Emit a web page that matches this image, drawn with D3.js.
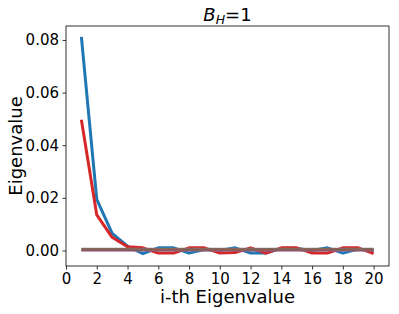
<!DOCTYPE html>
<html><head><meta charset="utf-8">
<script src="https://cdn.jsdelivr.net/npm/d3@7"></script>
<style>body{margin:0;background:#fff}svg{display:block}</style>
</head><body>
<script>
const idx = [1,2,3,4,5,6,7,8,9,10,11,12,13,14,15,16,17,18,19,20];
const blueVals = [0.0812,0.0194,0.0065,0.0016,-0.0012,0.0010,0.0010,-0.0010,0.0004,0.0000,0.0010,-0.0010,-0.0010,0.0008,0.0008,0.0000,0.0010,-0.0010,0.0005,0.0000];
const redVals  = [0.0497,0.0135,0.0050,0.0014,0.0010,-0.0010,-0.0010,0.0010,0.0010,-0.0010,-0.0008,0.0010,-0.0010,0.0010,0.0010,-0.0010,-0.0010,0.0010,0.0010,-0.0012];
const purpleVals = [0,0,0,0,0,0,0,0,0,0,0,0,0,0,0,0,0,0,0,0];
const grayVals = [0.0005,0.0005,0.0005,0.0005,0.0005,0.0005,0.0005,0.0005,0.0005,0.0005,0.0005,0.0005,0.0005,0.0005,0.0005,0.0005,0.0005,0.0005,0.0005,0.0005];
const brownVals = [0.0003,0.0003,0.0003,0.0003,0.0003,0.0003,0.0003,0.0003,0.0003,0.0003,0.0003,0.0003,0.0003,0.0003,0.0003,0.0003,0.0003,0.0003,0.0003,0.0003];
const xTicks = [0,2,4,6,8,10,12,14,16,18,20];
const yTicks = [0.00,0.02,0.04,0.06,0.08];

const W=399,H=314, L=66,R=389,T=26,B=266;
const svg=d3.select("body").append("svg").attr("width",W).attr("height",H);
const x=d3.scaleLinear().domain([0,21]).range([L,R]);
const y=d3.scaleLinear().domain([-0.0059,0.0853]).range([B,T]);
const font="DejaVu Sans";

const series=[
 {v:blueVals,c:"#1f77b4",w:3,o:1},
 {v:redVals,c:"#d62728",w:3,o:1},
 {v:purpleVals,c:"#9467bd",w:2,o:1},
 {v:grayVals,c:"#7f7f7f",w:3,o:1},
 {v:brownVals,c:"#8c564b",w:3,o:0.8}
];
const line=d3.line().x((d,i)=>x(idx[i])).y(d=>y(d));
const g=svg.append("g");
series.forEach(s=>{
  g.append("path").datum(s.v).attr("d",line).attr("fill","none")
   .attr("stroke",s.c).attr("stroke-width",s.w).attr("stroke-opacity",s.o)
   .attr("stroke-linejoin","round");
});

// axes
const xa=svg.append("g").attr("transform",`translate(0,${B})`)
 .call(d3.axisBottom(x).tickValues(xTicks).tickSize(3.5).tickPadding(3.5).tickFormat(d3.format("d")));
const ya=svg.append("g").attr("transform",`translate(${L},0)`)
 .call(d3.axisLeft(y).tickValues(yTicks).tickSize(3.5).tickPadding(3.5).tickFormat(d3.format(".2f")));
[xa,ya].forEach(a=>{
  a.select(".domain").remove();
  a.selectAll("line").attr("stroke","#000").attr("stroke-width",0.8);
  a.selectAll("text").attr("font-family",font).attr("font-size",15).attr("fill","#000");
});
svg.append("rect").attr("x",L).attr("y",T).attr("width",R-L).attr("height",B-T)
 .attr("fill","none").attr("stroke","#000").attr("stroke-width",0.8);

// title
const t=svg.append("text").attr("x",(L+R)/2).attr("y",21).attr("text-anchor","middle")
 .attr("font-family",font).attr("font-size",18);
t.append("tspan").attr("font-style","italic").text("B");
t.append("tspan").attr("font-style","italic").attr("font-size",12.5).attr("dy",3).text("H");
t.append("tspan").attr("dy",-3).text("=1");

svg.append("text").attr("x",(L+R)/2).attr("y",303).attr("text-anchor","middle")
 .attr("font-family",font).attr("font-size",18).text("i-th Eigenvalue");
svg.append("text").attr("transform",`translate(22,${(T+B)/2}) rotate(-90)`).attr("text-anchor","middle")
 .attr("font-family",font).attr("font-size",18).text("Eigenvalue");
</script>
</body></html>
